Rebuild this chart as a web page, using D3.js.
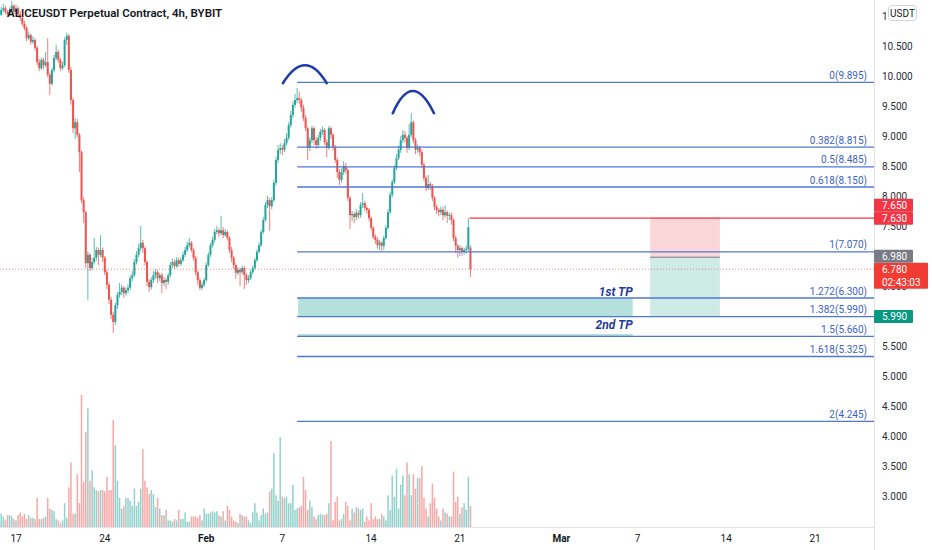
<!DOCTYPE html>
<html>
<head>
    <meta charset="utf-8">
    <title>ALICEUSDT Perpetual Contract, 4h, BYBIT</title>
    <script src="https://d3js.org/d3.v7.min.js"></script>
    <style>
        body { margin: 0; background: #fff; }
        svg { display: block; font-family: Roboto, "Noto Sans", sans-serif; }
    </style>
</head>
<body>
<svg width="932" height="550"></svg>
<script>
    const title = "ALICEUSDT Perpetual Contract, 4h, BYBIT";

    // first 4h candle and spacing
    const firstCandle = Date.UTC(2022, 0, 15, 16);
    const candleStep = 4 * 3600 * 1000;

    // [open, high, low, close] per 4h candle
    const candles = [
        [11.05,11.12,10.98,11.02],[11.02,11.15,11.00,11.10],[11.10,11.20,11.06,11.13],[11.13,11.17,11.03,11.07],
        [11.07,11.10,10.98,11.03],[11.03,11.14,11.00,11.10],[11.10,11.25,11.08,11.17],[11.17,11.20,11.03,11.07],
        [11.07,11.19,11.04,11.13],[11.13,11.16,10.99,11.03],[11.03,11.08,10.92,10.97],[10.97,11.00,10.83,10.87],
        [10.87,10.92,10.76,10.80],[10.80,10.83,10.58,10.63],[10.63,10.74,10.60,10.68],[10.68,10.71,10.52,10.57],
        [10.57,10.66,10.53,10.60],[10.60,10.63,10.42,10.47],[10.47,10.50,10.18,10.23],[10.23,10.28,10.08,10.13],
        [10.13,10.31,10.10,10.27],[10.27,10.30,10.12,10.18],[10.18,10.40,10.15,10.23],[10.23,10.63,9.98,10.02],
        [10.02,10.06,9.68,9.87],[9.87,10.14,9.84,10.10],[10.10,10.36,10.06,10.30],[10.30,10.52,10.26,10.40],
        [10.40,10.44,10.22,10.27],[10.27,10.30,10.08,10.13],[10.13,10.24,10.10,10.18],[10.18,10.64,10.15,10.60],
        [10.60,10.72,10.52,10.67],[10.67,10.70,10.05,10.10],[10.10,10.15,9.52,9.60],[9.60,9.64,9.05,9.13],
        [9.13,9.30,8.95,9.23],[9.23,9.28,8.98,9.02],[9.02,9.05,8.40,8.73],[8.73,8.76,7.88,7.93],
        [7.93,7.98,7.55,7.73],[7.73,7.76,6.80,6.88],[6.88,7.08,6.27,7.02],[7.02,7.05,6.75,6.80],
        [6.80,6.97,6.76,6.90],[6.90,7.30,6.86,6.97],[6.97,7.15,6.92,7.10],[7.10,7.14,6.85,7.02],
        [7.02,7.35,6.98,7.10],[7.10,7.14,6.90,6.97],[6.97,7.00,6.68,6.73],[6.73,6.77,6.45,6.52],
        [6.52,6.56,6.20,6.27],[6.27,6.32,5.95,6.02],[6.02,6.06,5.72,5.90],[5.90,6.22,5.85,6.18],
        [6.18,6.40,6.12,6.35],[6.35,6.55,6.30,6.40],[6.40,6.52,6.35,6.47],[6.47,6.50,6.30,6.38],
        [6.38,6.48,6.34,6.43],[6.43,6.53,6.38,6.47],[6.47,6.68,6.43,6.63],[6.63,6.75,6.58,6.68],
        [6.68,6.95,6.65,6.90],[6.90,7.08,6.86,7.02],[7.02,7.20,6.98,7.13],[7.13,7.50,7.08,7.22],
        [7.22,7.27,7.05,7.13],[7.13,7.16,6.85,6.90],[6.90,6.93,6.50,6.57],[6.57,6.62,6.40,6.48],
        [6.48,6.65,6.44,6.60],[6.60,6.75,6.55,6.68],[6.68,6.78,6.62,6.73],[6.73,6.77,6.55,6.63],
        [6.63,6.72,6.58,6.68],[6.68,6.72,6.38,6.55],[6.55,6.65,6.50,6.60],[6.60,6.64,6.45,6.57],
        [6.57,6.72,6.52,6.68],[6.68,6.90,6.64,6.85],[6.85,6.96,6.80,6.90],[6.90,6.94,6.78,6.83],
        [6.83,6.98,6.80,6.93],[6.93,6.97,6.82,6.87],[6.87,6.98,6.84,6.93],[6.93,7.07,6.90,7.02],
        [7.02,7.15,6.98,7.10],[7.10,7.24,7.06,7.18],[7.18,7.30,7.14,7.22],[7.22,7.25,7.06,7.10],
        [7.10,7.13,6.92,6.97],[6.97,7.00,6.68,6.73],[6.73,6.76,6.52,6.60],[6.60,6.63,6.43,6.47],
        [6.47,6.57,6.43,6.52],[6.52,6.64,6.48,6.60],[6.60,6.89,6.57,6.85],[6.85,7.06,6.82,7.02],
        [7.02,7.22,6.98,7.18],[7.18,7.32,7.14,7.27],[7.27,7.45,7.23,7.40],[7.40,7.50,7.36,7.43],
        [7.43,7.47,7.32,7.38],[7.38,7.67,7.35,7.43],[7.43,7.48,7.30,7.35],[7.35,7.45,7.32,7.40],
        [7.40,7.43,7.26,7.30],[7.30,7.33,7.05,7.10],[7.10,7.15,6.90,6.97],[6.97,7.00,6.78,6.85],
        [6.85,6.88,6.62,6.72],[6.72,6.82,6.68,6.77],[6.77,6.80,6.50,6.73],[6.73,6.84,6.70,6.80],
        [6.80,6.83,6.45,6.68],[6.68,6.72,6.52,6.60],[6.60,6.68,6.55,6.63],[6.63,6.77,6.60,6.73],
        [6.73,6.84,6.70,6.80],[6.80,6.97,6.77,6.93],[6.93,7.11,6.90,7.07],[7.07,7.23,7.04,7.18],
        [7.18,7.44,7.15,7.40],[7.40,7.65,7.37,7.60],[7.60,7.90,7.57,7.85],[7.85,8.00,7.80,7.93],
        [7.93,7.97,7.42,7.83],[7.83,7.98,7.78,7.93],[7.93,8.27,7.90,8.22],[8.22,8.65,8.18,8.60],
        [8.60,8.85,8.55,8.77],[8.77,8.88,8.70,8.80],[8.80,8.85,8.68,8.77],[8.77,8.95,8.73,8.88],
        [8.88,9.05,8.84,8.97],[8.97,9.23,8.93,9.18],[9.18,9.42,9.14,9.35],[9.35,9.58,9.30,9.52],
        [9.52,9.70,9.47,9.60],[9.60,9.80,9.55,9.63],[9.63,9.74,9.53,9.60],[9.60,9.64,9.40,9.47],
        [9.47,9.52,9.25,9.30],[9.30,9.35,9.08,9.13],[9.13,9.16,8.60,8.80],[8.80,8.98,8.75,8.93],
        [8.93,9.17,8.88,9.13],[9.13,9.16,8.85,8.93],[8.93,8.98,8.78,8.85],[8.85,9.02,8.80,8.97],
        [8.97,9.12,8.92,9.07],[9.07,9.16,9.02,9.10],[9.10,9.13,8.85,8.90],[8.90,8.94,8.65,8.80],
        [8.80,9.17,8.77,9.13],[9.13,9.16,8.95,9.02],[9.02,9.05,8.76,8.82],[8.82,8.85,8.55,8.60],
        [8.60,8.64,8.30,8.40],[8.40,8.45,8.18,8.27],[8.27,8.46,8.22,8.40],[8.40,8.58,8.35,8.50],
        [8.50,8.55,8.38,8.43],[8.43,8.46,7.92,7.97],[7.97,8.00,7.45,7.68],[7.68,7.75,7.58,7.70],
        [7.70,7.74,7.55,7.65],[7.65,7.78,7.60,7.72],[7.72,7.76,7.62,7.68],[7.68,7.90,7.64,7.85],
        [7.85,8.05,7.80,7.88],[7.88,7.92,7.75,7.80],[7.80,7.84,7.70,7.77],[7.77,7.80,7.58,7.63],
        [7.63,7.66,7.42,7.47],[7.47,7.50,7.28,7.32],[7.32,7.36,7.20,7.27],[7.27,7.31,7.12,7.18],
        [7.18,7.27,7.10,7.22],[7.22,7.25,7.07,7.17],[7.17,7.34,7.10,7.30],[7.30,7.52,7.27,7.47],
        [7.47,7.78,7.44,7.73],[7.73,8.07,7.70,8.02],[8.02,8.28,7.98,8.23],[8.23,8.52,8.20,8.47],
        [8.47,8.70,8.43,8.63],[8.63,8.84,8.60,8.77],[8.77,9.00,8.72,8.93],[8.93,9.10,8.88,9.02],
        [9.02,9.08,8.90,8.97],[8.97,9.00,8.72,8.80],[8.80,9.20,8.76,9.02],[9.02,9.38,8.98,9.23],
        [9.23,9.26,8.88,8.93],[8.93,8.97,8.70,8.77],[8.77,8.86,8.72,8.80],[8.80,8.84,8.66,8.73],
        [8.73,8.77,8.46,8.52],[8.52,8.56,8.25,8.30],[8.30,8.34,8.08,8.13],[8.13,8.35,8.10,8.20],
        [8.20,8.24,8.10,8.17],[8.17,8.20,7.92,7.97],[7.97,8.00,7.76,7.82],[7.82,7.86,7.70,7.77],
        [7.77,7.80,7.66,7.73],[7.73,7.82,7.68,7.77],[7.77,7.82,7.60,7.68],[7.68,7.85,7.64,7.73],
        [7.73,7.76,7.55,7.67],[7.67,7.72,7.60,7.68],[7.68,7.72,7.52,7.60],[7.60,7.63,7.25,7.30],
        [7.30,7.34,7.05,7.17],[7.17,7.20,6.97,7.10],[7.10,7.18,7.00,7.13],[7.13,7.16,7.00,7.07],
        [7.07,7.14,7.02,7.10],[7.10,7.18,7.04,7.12],[7.12,7.63,7.08,7.48],[7.14,7.18,6.65,6.78]
    ];

    // relative volume per candle (tallest bar = 100)
    const volumes = [
        19,10,8,5,9,9,8,6,5,9,
        11,8,10,6,9,7,7,6,22,6,
        6,7,8,22,14,13,12,6,5,3,
        5,18,7,30,49,10,10,40,18,100,
        34,72,90,35,43,30,28,27,28,28,
        27,38,28,28,81,62,35,22,14,16,
        22,22,20,16,29,16,19,29,59,35,
        30,25,28,25,15,22,14,9,9,13,
        5,5,4,6,5,13,6,6,11,4,
        4,8,8,8,7,9,5,14,10,10,
        11,12,11,12,9,8,12,5,16,13,
        8,5,4,3,10,9,8,8,5,3,
        11,18,11,5,9,14,10,11,27,29,
        56,24,20,68,23,22,23,18,18,32,
        13,14,15,16,38,28,13,20,15,8,
        6,9,10,9,9,10,18,65,5,19,
        23,5,6,10,19,16,5,14,11,15,
        14,13,14,4,8,5,18,6,8,6,
        6,10,8,5,24,13,39,23,44,14,
        32,39,24,49,40,24,40,29,37,37,
        46,22,14,8,18,33,22,14,8,5,
        14,11,10,8,8,42,19,23,10,15,
        18,13,38,16
    ];

    const priceTicks = [3, 3.5, 4, 4.5, 5, 5.5, 6, 6.5, 7, 7.5, 8, 8.5, 9, 9.5, 10, 10.5, 11];
    const timeTicks = [
        [Date.UTC(2022, 0, 17), "17"], [Date.UTC(2022, 0, 24), "24"], [Date.UTC(2022, 1, 1), "Feb"],
        [Date.UTC(2022, 1, 7), "7"], [Date.UTC(2022, 1, 14), "14"], [Date.UTC(2022, 1, 21), "21"],
        [Date.UTC(2022, 2, 1), "Mar"], [Date.UTC(2022, 2, 7), "7"], [Date.UTC(2022, 2, 14), "14"],
        [Date.UTC(2022, 2, 21), "21"]
    ];

    // fib extension
    const fibStart = Date.UTC(2022, 1, 8, 4);
    const fibLevels = [0, 0.382, 0.5, 0.618, 1, 1.272, 1.382, 1.5, 1.618, 2];
    const fibPrices = [9.895, 8.815, 8.485, 8.150, 7.070, 6.300, 5.990, 5.660, 5.325, 4.245];

    // take-profit zones
    const tpEnd = Date.UTC(2022, 2, 6, 15);
    const tpZones = [[6.300, 5.990], [5.700, 5.660]];
    const tpLabels = [["1st TP", 6.34], ["2nd TP", 5.78]];

    // double top arcs: [start, peak, end] as [time, price]
    const arcs = [
        [[Date.UTC(2022, 1, 7, 1), 9.88], [Date.UTC(2022, 1, 8, 19), 10.18], [Date.UTC(2022, 1, 10, 12), 9.88]],
        [[Date.UTC(2022, 1, 15, 17), 9.38], [Date.UTC(2022, 1, 17, 7), 9.75], [Date.UTC(2022, 1, 18, 23), 9.38]]
    ];

    // short position tool
    const posStart = Date.UTC(2022, 2, 8);
    const posEnd = Date.UTC(2022, 2, 13, 12);
    const stopPrice = 7.65, entryPrice = 6.98, targetPrice = 5.99;
    const alertPrice = 7.63;
    const lastPrice = 6.78;
    const countdown = "02:43:03";

    const svg = d3.select("svg");
    const plotRight = 874, axisY = 527;

    const x = d3.scaleUtc()
        .domain([new Date(Date.UTC(2022, 0, 17)), new Date(Date.UTC(2022, 2, 21))])
        .range([16, 815]);
    const y = d3.scaleLinear().domain([3, 11]).range([496, 16]);
    const yVol = d3.scaleLinear().domain([0, 100]).range([axisY, 395]);

    const up = "#26a69a", down = "#ef5350";
    const fibColor = "#5177d6", fibText = "#3e5fc6";
    const t = i => new Date(firstCandle + i * candleStep);

    svg.append("rect").attr("width", 932).attr("height", 550).attr("fill", "#fff");
    svg.append("clipPath").attr("id", "plot")
        .append("rect").attr("width", plotRight).attr("height", axisY);

    const g = svg.append("g").attr("clip-path", "url(#plot)");

    // volume
    g.selectAll(".vol").data(volumes).join("rect")
        .attr("class", "vol")
        .attr("x", (d, i) => x(t(i)) - 0.75)
        .attr("width", 1.5)
        .attr("y", d => yVol(d))
        .attr("height", d => axisY - yVol(d))
        .attr("fill", (d, i) => candles[i][3] >= candles[i][0] ? up : down)
        .attr("opacity", 0.5);

    // take-profit zones
    g.selectAll(".tp").data(tpZones).join("rect")
        .attr("class", "tp")
        .attr("x", x(new Date(fibStart)) + 1)
        .attr("width", x(new Date(tpEnd)) - x(new Date(fibStart)) - 1)
        .attr("y", d => y(d[0]))
        .attr("height", d => y(d[1]) - y(d[0]))
        .attr("fill", "#26a69a").attr("opacity", 0.34);

    // position tool
    const px0 = x(new Date(posStart)), px1 = x(new Date(posEnd));
    g.append("rect").attr("x", px0).attr("width", px1 - px0)
        .attr("y", y(stopPrice)).attr("height", y(entryPrice) - y(stopPrice))
        .attr("fill", "#f23645").attr("opacity", 0.2);
    g.append("rect").attr("x", px0).attr("width", px1 - px0)
        .attr("y", y(entryPrice)).attr("height", y(targetPrice) - y(entryPrice))
        .attr("fill", "#089981").attr("opacity", 0.2);
    g.append("line").attr("x1", px0).attr("x2", px1)
        .attr("y1", y(entryPrice)).attr("y2", y(entryPrice))
        .attr("stroke", "#787b86").attr("stroke-width", 1);

    // last price dotted line
    g.append("line").attr("x1", 0).attr("x2", plotRight)
        .attr("y1", y(lastPrice)).attr("y2", y(lastPrice))
        .attr("stroke", "#f23645").attr("stroke-opacity", 0.6)
        .attr("stroke-dasharray", "1,2");

    // candles
    const c = g.selectAll(".candle").data(candles).join("g").attr("class", "candle");
    c.append("line")
        .attr("x1", (d, i) => x(t(i))).attr("x2", (d, i) => x(t(i)))
        .attr("y1", d => y(d[1])).attr("y2", d => y(d[2]))
        .attr("stroke", d => d[3] >= d[0] ? up : down)
        .attr("stroke-opacity", 0.75).attr("stroke-width", 1);
    c.append("rect")
        .attr("x", (d, i) => x(t(i)) - 1).attr("width", 2)
        .attr("y", d => y(Math.max(d[0], d[3])))
        .attr("height", d => Math.max(0.8, Math.abs(y(d[0]) - y(d[3]))))
        .attr("fill", d => d[3] >= d[0] ? up : down);

    // fib lines
    const fx = x(new Date(fibStart));
    g.selectAll(".fib").data(fibPrices).join("line")
        .attr("class", "fib")
        .attr("x1", fx).attr("x2", plotRight)
        .attr("y1", d => y(d)).attr("y2", d => y(d))
        .attr("stroke", fibColor).attr("stroke-width", 1.3);
    g.selectAll(".fibl").data(fibPrices).join("text")
        .attr("class", "fibl")
        .attr("x", plotRight - 7)
        .attr("y", d => y(d) - 3.5)
        .attr("text-anchor", "end")
        .attr("font-size", 10)
        .attr("fill", fibText)
        .text((d, i) => `${fibLevels[i]}(${d.toFixed(3)})`);

    // alert line from last candle
    g.append("line")
        .attr("x1", x(t(candles.length - 1)) - 1).attr("x2", plotRight)
        .attr("y1", y(alertPrice)).attr("y2", y(alertPrice))
        .attr("stroke", "#f23645").attr("stroke-width", 1.3);

    // arcs
    g.selectAll(".arc").data(arcs).join("path")
        .attr("class", "arc")
        .attr("d", a => {
            const [s, p, e] = a.map(q => [x(new Date(q[0])), y(q[1])]);
            const cx = 2 * p[0] - (s[0] + e[0]) / 2;
            const cy = 2 * p[1] - (s[1] + e[1]) / 2;
            const path = d3.path();
            path.moveTo(s[0], s[1]);
            path.quadraticCurveTo(cx, cy, e[0], e[1]);
            return path.toString();
        })
        .attr("fill", "none").attr("stroke", "#1c3ca8").attr("stroke-width", 2.6)
        .attr("stroke-linecap", "round");

    // TP labels
    g.selectAll(".tpl").data(tpLabels).join("text")
        .attr("class", "tpl")
        .attr("x", x(new Date(tpEnd)))
        .attr("y", d => y(d[1]))
        .attr("text-anchor", "end")
        .attr("font-size", 12).attr("font-weight", "bold").attr("font-style", "italic")
        .attr("fill", "#1f3c9e")
        .text(d => d[0]);

    // title
    svg.append("text").attr("x", 7).attr("y", 17)
        .attr("font-size", 11.5).attr("font-weight", 600).attr("fill", "#131722")
        .text(title);

    // axes frame
    svg.append("line").attr("x1", 0).attr("x2", plotRight).attr("y1", axisY + 0.5).attr("y2", axisY + 0.5)
        .attr("stroke", "#e0e3eb");
    svg.append("line").attr("x1", plotRight + 0.5).attr("x2", plotRight + 0.5).attr("y1", 0).attr("y2", 550)
        .attr("stroke", "#e0e3eb");

    // time axis
    svg.selectAll(".tt").data(timeTicks).join("text")
        .attr("class", "tt")
        .attr("x", d => x(new Date(d[0])))
        .attr("y", 541.5)
        .attr("text-anchor", "middle")
        .attr("font-size", 10)
        .attr("font-weight", d => isNaN(+d[1]) ? "bold" : "normal")
        .attr("fill", "#131722")
        .text(d => d[1]);

    // price axis
    svg.selectAll(".pt").data(priceTicks).join("text")
        .attr("class", "pt")
        .attr("x", 882)
        .attr("y", d => y(d) + 3.5)
        .attr("font-size", 10)
        .attr("fill", "#2a2e39")
        .text(d => d3.format(".3f")(d));

    // price labels, stacked bottom-up so they do not overlap
    const boxes = [
        { price: targetPrice, text: ["5.990"], color: "#089981" },
        { price: lastPrice, text: ["6.780", countdown], color: "#f23c33" },
        { price: entryPrice, text: ["6.980"], color: "#787b86" },
        { price: alertPrice, text: ["7.630"], color: "#f23645" },
        { price: stopPrice, text: ["7.650"], color: "#f23645" }
    ];
    const lineH = 13;
    let limit = Infinity;
    boxes.forEach(b => {
        let top = y(b.price) - lineH / 2;
        const h = lineH * b.text.length;
        if (top + h > limit) top = limit - h;
        b.top = top; b.h = h;
        limit = top;
    });
    const bx = svg.selectAll(".pl").data(boxes).join("g").attr("class", "pl");
    bx.append("rect")
        .attr("x", plotRight).attr("y", d => d.top)
        .attr("width", d => d.text.length > 1 ? 54 : 39)
        .attr("height", d => d.h)
        .attr("rx", 1)
        .attr("fill", d => d.color);
    bx.each(function (d) {
        d3.select(this).selectAll("text").data(d.text).join("text")
            .attr("x", 882)
            .attr("y", (s, k) => d.top + lineH * k + 10)
            .attr("font-size", 10).attr("fill", "#fff")
            .text(s => s);
    });

    // currency badge
    svg.append("rect").attr("x", 888.5).attr("y", 5.5).attr("width", 28).attr("height", 15)
        .attr("rx", 3).attr("fill", "#fff").attr("stroke", "#d1d4dc");
    svg.append("text").attr("x", 902.5).attr("y", 16.5).attr("text-anchor", "middle")
        .attr("font-size", 10).attr("fill", "#131722").text("USDT");
</script>
</body>
</html>
